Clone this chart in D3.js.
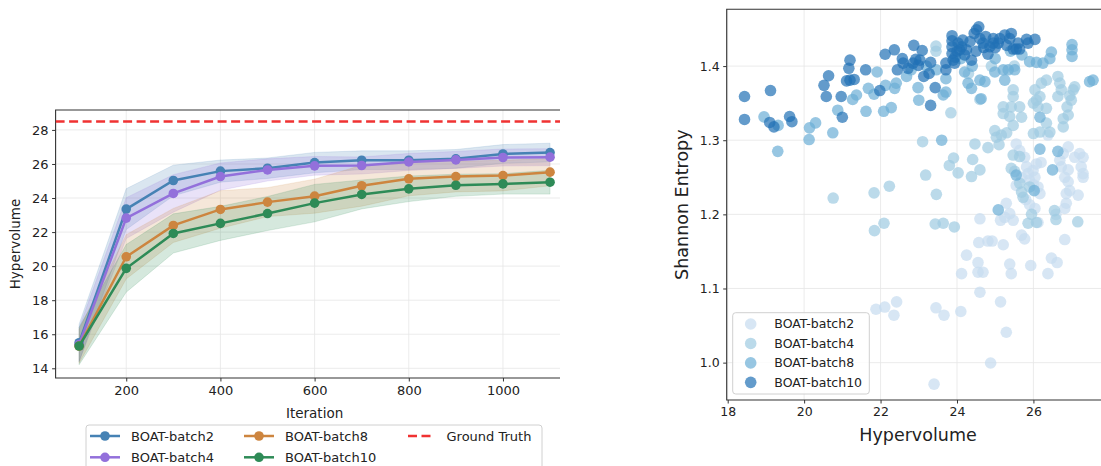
<!DOCTYPE html>
<html><head><meta charset="utf-8">
<script src="https://cdn.jsdelivr.net/npm/d3@7/dist/d3.min.js"></script>
<style>body{margin:0;background:#fff}svg{display:block;font-family:"DejaVu Sans",sans-serif}</style>
</head><body><svg id="c" width="1101" height="466"></svg>
<script>
// ---------- Left chart data ----------
const iterations = [100,200,300,400,500,600,700,800,900,1000,1100];
const batch2Mean = [15.5,23.35,25.03,25.58,25.75,26.08,26.22,26.22,26.3,26.59,26.67];
const batch2Std  = [1.1,1.2,0.9,0.65,0.6,0.6,0.55,0.55,0.55,0.55,0.55];
const batch4Mean = [15.4,22.82,24.27,25.26,25.65,25.89,25.91,26.12,26.24,26.38,26.4];
const batch4Std  = [1.0,1.2,1.1,0.8,0.65,0.55,0.5,0.5,0.5,0.5,0.5];
const batch8Mean = [15.3,20.55,22.39,23.33,23.76,24.11,24.72,25.13,25.26,25.32,25.52];
const batch8Std  = [1.0,1.3,1.0,1.1,0.85,1.0,1.2,1.0,0.9,0.9,0.8];
const batch10Mean = [15.31,19.87,21.92,22.51,23.09,23.70,24.21,24.54,24.75,24.83,24.93];
const batch10Std  = [1.1,1.4,1.15,1.0,1.0,1.1,0.85,0.75,0.65,0.6,0.7];
const groundTruth = 28.5;
const leftYTicks = [14,16,18,20,22,24,26,28];
const leftXTicks = [200,400,600,800,1000];
const lineNames = ["BOAT-batch2","BOAT-batch4","BOAT-batch8","BOAT-batch10"];
const lineColors = ["#4682b4","#9370db","#cd853f","#2e8b57"];

// ---------- Right chart data ----------
const scatterB2 = [[23.4,0.971],[24.88,0.9995],[25.29,1.041],[25.14,1.082],[24.1,1.069],[23.66,1.064],[23.45,1.074],[22.42,1.082],[22.11,1.075],[21.88,1.072],[22.35,1.064],[24.6,1.095],[24.12,1.12],[24.55,1.122],[24.68,1.122],[24.25,1.145],[24.55,1.135],[24.57,1.162],[24.81,1.164],[24.92,1.164],[25.21,1.159],[24.6,1.194],[25.38,1.133],[25.42,1.12],[25.69,1.172],[25.77,1.167],[25.93,1.131],[26.38,1.12],[26.47,1.141],[26.62,1.135],[26.82,1.166],[25.14,1.192],[25.25,1.196],[25.47,1.192],[25.38,1.201],[25.29,1.215],[25.9,1.213],[26.04,1.208],[26.12,1.189],[26.59,1.2],[26.82,1.208],[26.86,1.215],[26.78,1.282],[26.91,1.291],[27.08,1.277],[27.21,1.282],[27.3,1.277],[27.25,1.264],[27.3,1.255],[27.3,1.25],[26.69,1.273],[26.73,1.264],[26.82,1.25],[26.91,1.244],[26.95,1.232],[27.17,1.226],[26.86,1.228],[26.91,1.26],[25.55,1.295],[25.64,1.286],[25.77,1.277],[25.82,1.264],[25.86,1.255],[25.9,1.246],[25.99,1.259],[26.04,1.25],[26.08,1.268],[26.12,1.237],[26.17,1.228],[25.55,1.239],[25.69,1.25],[26.38,1.307],[26.2,1.27],[26.0,1.24],[25.8,1.22]];
const scatterB4 = [[23.1,1.298],[23.18,1.253],[22.23,1.238],[21.83,1.229],[21.84,1.178],[22.09,1.188],[20.76,1.222],[23.46,1.227],[23.43,1.187],[23.64,1.188],[23.93,1.183],[23.8,1.266],[23.91,1.276],[24.03,1.256],[24.38,1.251],[24.41,1.274],[24.6,1.26],[24.47,1.295],[24.81,1.29],[25.1,1.294],[23.84,1.337],[24.6,1.355],[24.99,1.313],[25.03,1.304],[25.16,1.307],[25.21,1.336],[25.21,1.345],[25.42,1.345],[25.38,1.332],[25.3,1.31],[25.47,1.32],[25.47,1.359],[25.47,1.368],[25.64,1.345],[25.69,1.331],[26.04,1.368],[26.08,1.354],[26.12,1.345],[26.21,1.377],[26.34,1.381],[26.17,1.359],[26.34,1.323],[26.34,1.343],[26.43,1.311],[26.64,1.386],[26.69,1.377],[26.73,1.368],[26.64,1.359],[26.78,1.329],[26.91,1.334],[26.88,1.345],[27.04,1.368],[26.99,1.354],[27.08,1.372],[26.95,1.36],[26.78,1.318],[26.0,1.309],[26.17,1.311],[25.47,1.28],[25.42,1.262],[25.51,1.258],[25.64,1.278],[25.64,1.242],[25.69,1.23],[25.73,1.223],[25.9,1.237],[27.16,1.19],[25.95,1.2],[26.08,1.189],[25.86,1.188],[26.59,1.193],[26.55,1.205],[23.45,1.42],[23.45,1.427],[24.3,1.39],[24.9,1.4],[25.5,1.4],[26.0,1.35]];
const scatterB8 = [[18.95,1.3315],[19.32,1.32],[19.31,1.285],[20.14,1.3167],[20.3,1.3234],[20.13,1.3009],[20.75,1.31],[20.88,1.3405],[21.27,1.355],[21.37,1.361],[21.68,1.37],[21.62,1.339],[21.83,1.362],[21.91,1.392],[22.08,1.339],[22.28,1.344],[22.13,1.374],[22.37,1.37],[22.41,1.377],[22.68,1.386],[22.98,1.371],[23.0,1.354],[23.6,1.3],[23.64,1.361],[23.71,1.365],[23.71,1.383],[23.46,1.395],[24.2,1.392],[24.29,1.377],[24.38,1.37],[24.6,1.381],[24.73,1.379],[24.63,1.356],[24.99,1.392],[25.21,1.395],[25.25,1.381],[25.34,1.395],[25.51,1.395],[25.9,1.406],[26.08,1.405],[26.25,1.404],[26.43,1.41],[26.47,1.419],[27.01,1.429],[27.01,1.422],[27.01,1.413],[26.17,1.331],[26.17,1.288],[26.64,1.285],[26.5,1.26],[26.02,1.232],[25.55,1.253],[25.08,1.206],[27.47,1.379],[27.56,1.381],[22.8,1.395],[23.2,1.4],[24.1,1.41],[24.4,1.4],[25.0,1.41],[25.7,1.415],[25.4,1.42]];
const scatterB10 = [[18.44,1.359],[18.44,1.328],[19.12,1.367],[19.10,1.324],[19.21,1.318],[19.62,1.332],[19.68,1.325],[20.52,1.374],[20.64,1.387],[20.58,1.359],[20.97,1.359],[21.0,1.331],[21.2,1.408],[21.17,1.397],[21.11,1.380],[21.2,1.381],[21.31,1.382],[21.61,1.395],[21.98,1.367],[22.12,1.416],[22.36,1.422],[22.44,1.395],[22.57,1.410],[22.59,1.404],[22.72,1.397],[22.85,1.404],[22.92,1.409],[23.03,1.408],[22.99,1.401],[22.87,1.428],[23.09,1.421],[23.13,1.386],[23.31,1.405],[23.27,1.390],[23.31,1.347],[23.43,1.371],[23.71,1.404],[23.71,1.395],[23.87,1.441],[23.87,1.434],[23.87,1.426],[23.87,1.417],[23.9,1.408],[24.03,1.431],[24.07,1.422],[24.12,1.426],[23.94,1.404],[24.25,1.422],[24.34,1.433],[24.38,1.408],[24.45,1.444],[24.51,1.449],[24.57,1.453],[24.6,1.437],[24.68,1.431],[24.86,1.426],[24.95,1.431],[24.81,1.416],[25.12,1.437],[25.25,1.442],[25.38,1.437],[25.42,1.444],[25.08,1.431],[24.95,1.437],[25.47,1.423],[25.6,1.431],[25.64,1.423],[25.82,1.436],[25.86,1.431],[26.04,1.436],[25.55,1.423],[24.0,1.42],[24.2,1.415],[24.5,1.42],[24.7,1.425],[25.0,1.425],[25.3,1.428],[24.15,1.435],[23.95,1.412],[24.75,1.44]];
const scatterNames = ["BOAT-batch2","BOAT-batch4","BOAT-batch8","BOAT-batch10"];
const scatterColors = ["#c6dbef","#9ecae1","#6baed6","#2171b5"];
const rightXTicks = [18,20,22,24,26];
const rightYTicks = [1.0,1.1,1.2,1.3,1.4];

const svg = d3.select("#c");
const axisColor = "#333";
const gridColor = "#e6e6e6";

// ================= LEFT CHART =================
{
  const L = {x0:55.6, x1:573.6, y0:110, y1:378};
  const cropX = 560; // the figure is cut at this column
  const x = d3.scaleLinear().domain([50,1150]).range([L.x0,L.x1]);
  const y = d3.scaleLinear().domain([13.43,29.17]).range([L.y1,L.y0]);
  const g = svg.append("g");
  svg.append("clipPath").attr("id","lclip").append("rect")
    .attr("x",L.x0).attr("y",L.y0).attr("width",cropX-L.x0).attr("height",L.y1-L.y0);
  svg.append("clipPath").attr("id","lcrop").append("rect")
    .attr("x",0).attr("y",0).attr("width",cropX).attr("height",466);
  const gc = g.append("g").attr("clip-path","url(#lcrop)");
  gc.selectAll(".gx").data(leftXTicks).join("line")
    .attr("x1",d=>x(d)).attr("x2",d=>x(d)).attr("y1",L.y0).attr("y2",L.y1)
    .attr("stroke",gridColor).attr("stroke-width",0.8);
  gc.selectAll(".gy").data(leftYTicks).join("line")
    .attr("x1",L.x0).attr("x2",L.x1).attr("y1",d=>y(d)).attr("y2",d=>y(d))
    .attr("stroke",gridColor).attr("stroke-width",0.8);
  const series = [[batch2Mean,batch2Std],[batch4Mean,batch4Std],[batch8Mean,batch8Std],[batch10Mean,batch10Std]];
  const pg = g.append("g").attr("clip-path","url(#lclip)");
  series.forEach(([m,s],i)=>{
    const area = d3.area().x((d,j)=>x(iterations[j])).y0((d,j)=>y(m[j]-s[j])).y1((d,j)=>y(m[j]+s[j]));
    pg.append("path").attr("d",area(m)).attr("fill",lineColors[i]).attr("fill-opacity",0.2)
      .attr("stroke",lineColors[i]).attr("stroke-opacity",0.15);
  });
  series.forEach(([m,s],i)=>{
    const line = d3.line().x((d,j)=>x(iterations[j])).y(d=>y(d));
    pg.append("path").attr("d",line(m)).attr("fill","none").attr("stroke",lineColors[i]).attr("stroke-width",2.5);
    pg.selectAll(null).data(m).join("circle").attr("cx",(d,j)=>x(iterations[j])).attr("cy",d=>y(d))
      .attr("r",4.8).attr("fill",lineColors[i]);
  });
  pg.append("line").attr("x1",L.x0).attr("x2",L.x1).attr("y1",y(groundTruth)).attr("y2",y(groundTruth))
    .attr("stroke","#f03232").attr("stroke-width",2.5).attr("stroke-dasharray","9,4.5");
  const ax = gc.append("g").attr("transform",`translate(0,${L.y1})`)
    .call(d3.axisBottom(x).tickValues(leftXTicks).tickFormat(d3.format("d")).tickSize(3.5).tickPadding(4));
  const ay = gc.append("g").attr("transform",`translate(${L.x0},0)`)
    .call(d3.axisLeft(y).tickValues(leftYTicks).tickSize(3.5).tickPadding(3.5));
  [ax,ay].forEach(a=>{a.select(".domain").remove();a.selectAll("line").attr("stroke",axisColor);
    a.selectAll("text").attr("fill","#222").style("font-size","13px").style("font-family","DejaVu Sans");});
  gc.append("path").attr("d",`M${L.x1},${L.y0}H${L.x0}V${L.y1}H${L.x1}`).attr("fill","none")
    .attr("stroke",axisColor).attr("stroke-width",1.1);
  g.append("text").attr("x",(L.x0+L.x1)/2).attr("y",418).attr("text-anchor","middle")
    .style("font-size","13.5px").attr("fill","#222").text("Iteration");
  g.append("text").attr("transform",`translate(20,${(L.y0+L.y1)/2}) rotate(-90)`).attr("text-anchor","middle")
    .style("font-size","13.5px").attr("fill","#222").text("Hypervolume");
  const lg = g.append("g");
  lg.append("rect").attr("x",86).attr("y",425).attr("width",456).attr("height",50).attr("rx",3)
    .attr("fill","#fff").attr("stroke","#d0d0d0").attr("stroke-width",1);
  const legItems = [
    {name:lineNames[0],color:lineColors[0],col:0,row:0},
    {name:lineNames[1],color:lineColors[1],col:0,row:1},
    {name:lineNames[2],color:lineColors[2],col:1,row:0},
    {name:lineNames[3],color:lineColors[3],col:1,row:1},
    {name:"Ground Truth",color:"#f03232",col:2,row:0,dash:true}];
  const colX = [90,244,408];
  legItems.forEach(it=>{
    const cx = colX[it.col], cy = 436 + it.row*21.3;
    if(it.dash){
      lg.append("line").attr("x1",cx).attr("x2",cx+27).attr("y1",cy).attr("y2",cy)
        .attr("stroke",it.color).attr("stroke-width",2.5).attr("stroke-dasharray","9,4.5");
      lg.append("text").attr("x",cx+38.5).attr("y",cy+4.6).style("font-size","13px").attr("fill","#222").text(it.name);
    } else {
      lg.append("line").attr("x1",cx).attr("x2",cx+30).attr("y1",cy).attr("y2",cy)
        .attr("stroke",it.color).attr("stroke-width",2.5);
      lg.append("circle").attr("cx",cx+15).attr("cy",cy).attr("r",4.8).attr("fill",it.color);
      lg.append("text").attr("x",cx+41).attr("y",cy+4.6).style("font-size","13px").attr("fill","#222").text(it.name);
    }
  });
}

// ================= RIGHT CHART =================
{
  const R = {x0:726.7, x1:1111, y0:9.3, y1:400};
  const x = d3.scaleLinear().domain([17.974,28.03]).range([R.x0,R.x1]);
  const y = d3.scaleLinear().domain([0.9496,1.4766]).range([R.y1,R.y0]);
  const g = svg.append("g");
  svg.append("clipPath").attr("id","rclip").append("rect")
    .attr("x",R.x0).attr("y",R.y0).attr("width",R.x1-R.x0).attr("height",R.y1-R.y0);
  g.selectAll(".gx").data(rightXTicks).join("line")
    .attr("x1",d=>x(d)).attr("x2",d=>x(d)).attr("y1",R.y0).attr("y2",R.y1)
    .attr("stroke",gridColor).attr("stroke-width",0.8);
  g.selectAll(".gy").data(rightYTicks).join("line")
    .attr("x1",R.x0).attr("x2",R.x1).attr("y1",d=>y(d)).attr("y2",d=>y(d))
    .attr("stroke",gridColor).attr("stroke-width",0.8);
  const pg = g.append("g").attr("clip-path","url(#rclip)");
  [scatterB2,scatterB4,scatterB8,scatterB10].forEach((pts,i)=>{
    pg.selectAll(null).data(pts).join("circle").attr("cx",d=>x(d[0])).attr("cy",d=>y(d[1]))
      .attr("r",5.8).attr("fill",scatterColors[i]).attr("fill-opacity",0.7);
  });
  const ax = g.append("g").attr("transform",`translate(0,${R.y1})`)
    .call(d3.axisBottom(x).tickValues(rightXTicks).tickSize(3.5).tickPadding(4));
  const ay = g.append("g").attr("transform",`translate(${R.x0},0)`)
    .call(d3.axisLeft(y).tickValues(rightYTicks).tickFormat(d3.format(".1f")).tickSize(3.5).tickPadding(3.5));
  [ax,ay].forEach(a=>{a.select(".domain").remove();a.selectAll("line").attr("stroke",axisColor);
    a.selectAll("text").attr("fill","#222").style("font-size","12.5px").style("font-family","DejaVu Sans");});
  g.append("path").attr("d",`M${R.x1},${R.y0}H${R.x0}V${R.y1}H${R.x1}`).attr("fill","none")
    .attr("stroke",axisColor).attr("stroke-width",1.1);
  g.append("text").attr("x",918).attr("y",441).attr("text-anchor","middle")
    .style("font-size","17.5px").attr("fill","#222").text("Hypervolume");
  g.append("text").attr("transform",`translate(688,${(R.y0+R.y1)/2}) rotate(-90)`).attr("text-anchor","middle")
    .style("font-size","17.5px").attr("fill","#222").text("Shannon Entropy");
  const lg = g.append("g");
  lg.append("rect").attr("x",732.7).attr("y",312.7).attr("width",136.6).attr("height",81.3).attr("rx",3)
    .attr("fill","#fff").attr("fill-opacity",0.8).attr("stroke","#d0d0d0");
  scatterNames.forEach((n,i)=>{
    const cy = 324 + i*19.45;
    lg.append("circle").attr("cx",750.7).attr("cy",cy).attr("r",5.8).attr("fill",scatterColors[i]).attr("fill-opacity",0.7);
    lg.append("text").attr("x",774.3).attr("y",cy+4.4).style("font-size","12.5px").attr("fill","#222").text(n);
  });
}
</script></body></html>
